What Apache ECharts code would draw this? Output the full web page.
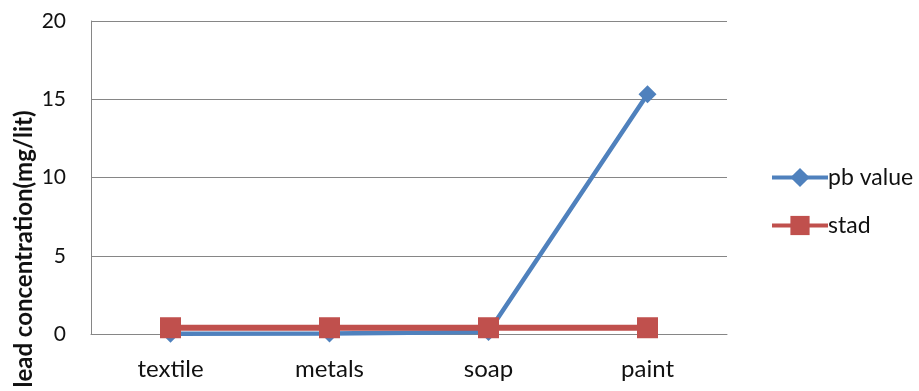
<!DOCTYPE html>
<html>
<head>
<meta charset="utf-8">
<script src="https://cdn.jsdelivr.net/npm/echarts@6/dist/echarts.min.js"></script>
<style>
  html, body { margin: 0; padding: 0; background: #fff; }
  #chart { width: 919px; height: 391px; }
</style>
</head>
<body>
<div id="chart"></div>
<script>
// Lead content per industry sample versus the standard limit
const categories = ['textile', 'metals', 'soap', 'paint'];
const pbValue = [0.02, 0.03, 0.12, 15.32];
const stad = [0.4, 0.4, 0.4, 0.4];
const yTicks = { min: 0, max: 20, interval: 5 };

const font = 'Lato, "Open Sans", sans-serif';
const chart = echarts.init(document.getElementById('chart'));

chart.setOption({
  animation: false,
  backgroundColor: '#ffffff',
  grid: { left: 91, right: 192, top: 21, bottom: 57, containLabel: false },
  xAxis: {
    type: 'category',
    data: categories,
    boundaryGap: true,
    axisLine: { show: true, lineStyle: { color: '#868686', width: 1 } },
    axisTick: { show: false },
    axisLabel: { color: '#111', fontSize: 24, fontFamily: font, margin: 23 }
  },
  yAxis: {
    type: 'value',
    min: yTicks.min,
    max: yTicks.max,
    interval: yTicks.interval,
    axisLine: { show: true, lineStyle: { color: '#868686', width: 1 } },
    axisTick: { show: false },
    splitLine: { show: true, lineStyle: { color: '#868686', width: 1 } },
    axisLabel: { color: '#111', fontSize: 21, fontFamily: font, margin: 25 }
  },
  legend: {
    orient: 'vertical',
    left: 765,
    top: 161,
    itemWidth: 56,
    itemHeight: 24,
    itemGap: 25,
    lineStyle: { width: 4 },
    textStyle: { color: '#111', fontSize: 23, fontFamily: font, padding: [0, 0, 0, -5] },
    data: ['pb value', 'stad']
  },
  graphic: [{
    type: 'text',
    x: 24,
    y: 249,
    rotation: Math.PI / 2,
    style: {
      text: 'lead concentration(mg/lit)',
      font: 'bold 24px ' + font,
      fill: '#111',
      align: 'center',
      verticalAlign: 'middle'
    }
  }],
  series: [
    {
      name: 'pb value',
      type: 'line',
      data: pbValue,
      symbol: 'diamond',
      symbolSize: 18,
      lineStyle: { color: '#4f81bd', width: 4.5 },
      itemStyle: { color: '#4f81bd' },
      z: 2
    },
    {
      name: 'stad',
      type: 'line',
      data: stad,
      symbol: 'rect',
      symbolSize: 21,
      lineStyle: { color: '#c0504d', width: 6 },
      itemStyle: { color: '#c0504d' },
      z: 3
    }
  ]
});
</script>
</body>
</html>
